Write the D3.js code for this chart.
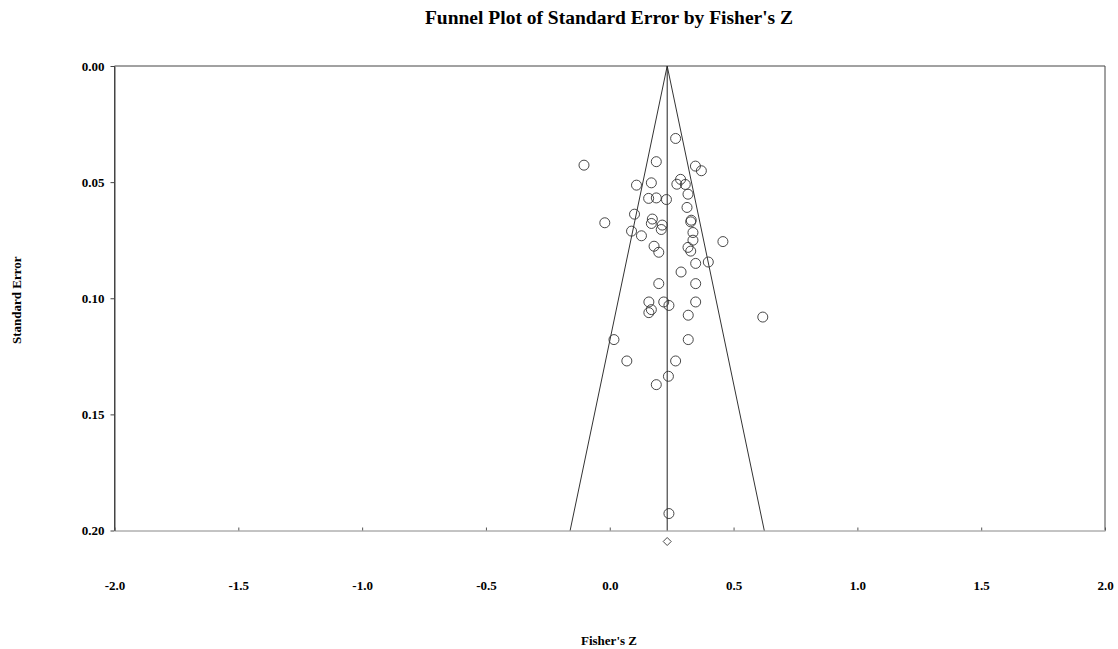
<!DOCTYPE html>
<html>
<head>
<meta charset="utf-8">
<script src="https://cdn.jsdelivr.net/npm/d3@7"></script>
<style>
  html, body { margin: 0; padding: 0; background: #fff; }
  svg text { font-family: "Liberation Serif", "Times New Roman", serif; font-weight: bold; fill: #000; }
</style>
</head>
<body>
<svg id="chart" width="1118" height="649"></svg>
<script>
// Study effect sizes (Fisher's Z) and their standard errors
const fisherZ = [
  0.266, -0.104, 0.188, 0.346, 0.370, 0.108, 0.168, 0.286, 0.271, 0.305,
  0.316, 0.157, 0.188, 0.229, 0.312, 0.100, -0.020, 0.172, 0.329, 0.168,
  0.212, 0.327, 0.088, 0.128, 0.208, 0.336, 0.336, 0.457, 0.179, 0.198,
  0.316, 0.327, 0.347, 0.398, 0.288, 0.198, 0.347, 0.158, 0.218, 0.239,
  0.347, 0.168, 0.158, 0.317, 0.618, 0.017, 0.317, 0.069, 0.266, 0.237,
  0.188, 0.239
];
const stdError = [
  0.0312, 0.0427, 0.0412, 0.0431, 0.0451, 0.0513, 0.0503, 0.0488, 0.0509, 0.0510,
  0.0552, 0.0570, 0.0568, 0.0575, 0.0609, 0.0638, 0.0675, 0.0659, 0.0664, 0.0678,
  0.0685, 0.0671, 0.0711, 0.0731, 0.0704, 0.0717, 0.0750, 0.0756, 0.0776, 0.0802,
  0.0781, 0.0797, 0.0850, 0.0844, 0.0887, 0.0937, 0.0937, 0.1016, 0.1016, 0.1031,
  0.1016, 0.1049, 0.1062, 0.1073, 0.1081, 0.1178, 0.1178, 0.1270, 0.1270, 0.1336,
  0.1372, 0.1927
];
// Combined estimate
const pooledZ = [0.232];
const xTicks = [-2.0, -1.5, -1.0, -0.5, 0.0, 0.5, 1.0, 1.5, 2.0];
const yTicks = [0.00, 0.05, 0.10, 0.15, 0.20];
const seMax = 0.20;

const svg = d3.select("#chart");
const x = d3.scaleLinear().domain([-2, 2]).range([114.5, 1105]);
const y = d3.scaleLinear().domain([0, seMax]).range([66, 530.5]);

const fmtX = d => d.toFixed(1);
const fmtY = d => d.toFixed(2);

// Title
svg.append("text")
  .attr("x", 609).attr("y", 24)
  .attr("text-anchor", "middle")
  .style("font-size", "19.5px")
  .text("Funnel Plot of Standard Error by Fisher's Z");

// Frame
svg.append("path")
  .attr("d", `M${x(-2)},${y(seMax)}V${y(0)}H${x(2)}V${y(seMax)}`)
  .attr("fill", "none").attr("stroke", "#444").attr("stroke-width", 1);

// Bottom axis
const xAxis = d3.axisBottom(x).tickValues(xTicks).tickSizeInner(-3).tickSizeOuter(0).tickFormat(fmtX);
const gx = svg.append("g").attr("transform", `translate(0,${y(seMax)})`).call(xAxis);
gx.select(".domain").attr("stroke", "#888");
gx.selectAll(".tick line").attr("stroke", "#555");
gx.selectAll(".tick text").attr("y", 59).attr("dy", 0)
  .style("font-size", "13px").style("font-family", "Liberation Serif, serif").style("font-weight", "bold");

// Left axis
const yAxis = d3.axisLeft(y).tickValues(yTicks).tickSizeInner(4).tickSizeOuter(0).tickFormat(fmtY);
const gy = svg.append("g").attr("transform", `translate(${x(-2)},0)`).call(yAxis);
gy.select(".domain").attr("stroke", "#444");
gy.selectAll(".tick line").attr("stroke", "#444");
gy.selectAll(".tick text").attr("x", -10)
  .style("font-size", "13px").style("font-family", "Liberation Serif, serif").style("font-weight", "bold");

// Axis titles
svg.append("text")
  .attr("x", 609).attr("y", 645)
  .attr("text-anchor", "middle")
  .style("font-size", "13px")
  .text("Fisher's Z");
svg.append("text")
  .attr("transform", `translate(21,${(y(0) + y(seMax)) / 2 + 2}) rotate(-90)`)
  .attr("text-anchor", "middle")
  .style("font-size", "13px")
  .text("Standard Error");

// Funnel (95% limits) and centre line
const m = pooledZ[0];
const funnel = [
  [m - 1.96 * seMax, seMax],
  [m, 0],
  [m + 1.96 * seMax, seMax]
];
svg.append("path")
  .attr("d", d3.line().x(d => x(d[0])).y(d => y(d[1]))(funnel))
  .attr("fill", "none").attr("stroke", "#333").attr("stroke-width", 1);
svg.append("line")
  .attr("x1", x(m)).attr("x2", x(m))
  .attr("y1", y(0)).attr("y2", y(seMax))
  .attr("stroke", "#222").attr("stroke-width", 1);

// Studies
const studies = fisherZ.map((z, i) => ({ z, se: stdError[i] }));
svg.append("g").selectAll("circle")
  .data(studies).join("circle")
  .attr("cx", d => x(d.z))
  .attr("cy", d => y(d.se))
  .attr("r", 5)
  .attr("fill", "none")
  .attr("stroke", "#333")
  .attr("stroke-width", 0.9);

// Combined estimate diamond below the axis
const dy = y(seMax) + 11;
svg.append("g").selectAll("path.pooled")
  .data(pooledZ).join("path")
  .attr("class", "pooled")
  .attr("d", d => `M${x(d)},${dy - 4}L${x(d) + 4},${dy}L${x(d)},${dy + 4}L${x(d) - 4},${dy}Z`)
  .attr("fill", "none").attr("stroke", "#333").attr("stroke-width", 0.9);
</script>
</body>
</html>
